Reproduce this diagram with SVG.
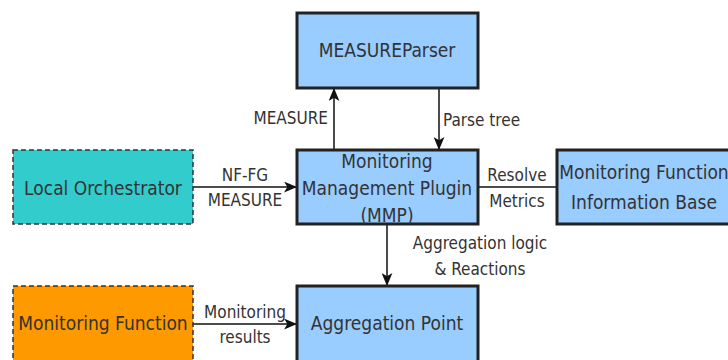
<svg xmlns="http://www.w3.org/2000/svg" width="728" height="360" viewBox="0 0 728 360">
<defs>
<marker id="arr" viewBox="0 0 12 10" refX="11" refY="5" markerWidth="13" markerHeight="11" markerUnits="userSpaceOnUse" orient="auto">
<path d="M0,0 L12,5 L0,10 L3,5 Z" fill="#111"/>
</marker>
</defs>
<style>
.node{fill:#99CCFF;stroke:#222;stroke-width:3}
.ext{stroke:#333;stroke-width:1.5;stroke-dasharray:5 3}
.t{font-family:"DejaVu Sans Condensed","Liberation Sans",sans-serif;font-size:19px;fill:#333;text-anchor:middle}
.l{font-family:"DejaVu Sans Condensed","Liberation Sans",sans-serif;font-size:17px;fill:#333}
.c{stroke:#111;stroke-width:1.5;fill:none}
</style>
<rect width="728" height="360" fill="#fff"/>
<g id="connectors">
<line class="c" x1="334" y1="150" x2="334" y2="89" marker-end="url(#arr)"/>
<line class="c" x1="439" y1="88" x2="439" y2="149" marker-end="url(#arr)"/>
<line class="c" x1="193" y1="187" x2="296" y2="187" marker-end="url(#arr)"/>
<line class="c" x1="478" y1="187" x2="557" y2="187"/>
<line class="c" x1="387" y1="224" x2="387" y2="285" marker-end="url(#arr)"/>
<line class="c" x1="193" y1="324" x2="296" y2="324" marker-end="url(#arr)"/>
<text class="l" x="328" y="124" text-anchor="end">MEASURE</text>
<text class="l" x="443" y="126">Parse tree</text>
<text class="l" x="245" y="181" text-anchor="middle">NF-FG</text>
<text class="l" x="245" y="206" text-anchor="middle">MEASURE</text>
<text class="l" x="517" y="181" text-anchor="middle">Resolve</text>
<text class="l" x="517" y="207" text-anchor="middle">Metrics</text>
<text class="l" x="480" y="249" text-anchor="middle">Aggregation logic</text>
<text class="l" x="480" y="275" text-anchor="middle">&amp; Reactions</text>
<text class="l" x="245" y="318" text-anchor="middle">Monitoring</text>
<text class="l" x="245" y="343" text-anchor="middle">results</text>
</g>
<g id="measure-parser">
<rect class="node" x="297" y="13" width="181" height="75"/>
<text class="t" x="387" y="57">MEASUREParser</text>
</g>
<g id="mmp">
<rect class="node" x="297" y="150" width="181" height="74"/>
<text class="t" x="387" y="168">Monitoring</text>
<text class="t" x="387" y="195">Management Plugin</text>
<text class="t" x="387" y="222">(MMP)</text>
</g>
<g id="local-orchestrator">
<rect class="ext" x="13" y="150" width="180" height="74" fill="#33CCCC"/>
<text class="t" x="103" y="195">Local Orchestrator</text>
</g>
<g id="mfib">
<rect class="node" x="557" y="150" width="176" height="74"/>
<text class="t" x="644" y="179">Monitoring Function</text>
<text class="t" x="644" y="209">Information Base</text>
</g>
<g id="monitoring-function">
<rect class="ext" x="13" y="286" width="180" height="80" fill="#FF9900"/>
<text class="t" x="103" y="330">Monitoring Function</text>
</g>
<g id="aggregation-point">
<rect class="node" x="297" y="286" width="181" height="80"/>
<text class="t" x="387" y="330">Aggregation Point</text>
</g>
</svg>
